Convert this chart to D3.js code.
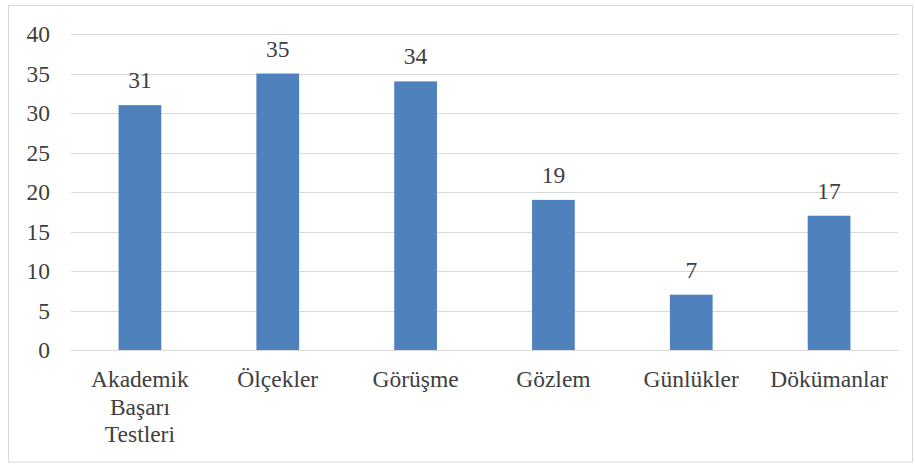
<!DOCTYPE html>
<html>
<head>
<meta charset="utf-8">
<script src="https://cdn.jsdelivr.net/npm/d3@7"></script>
<style>
  html, body { margin: 0; padding: 0; background: #fff; }
  svg { display: block; }
</style>
</head>
<body>
<svg id="chart" width="915" height="464"></svg>
<script>
// Data collection tools and how many studies used each
const categories = [["Akademik", "Başarı", "Testleri"], ["Ölçekler"], ["Görüşme"], ["Gözlem"], ["Günlükler"], ["Dökümanlar"]];
const values = [31, 35, 34, 19, 7, 17];
const yTicks = [0, 5, 10, 15, 20, 25, 30, 35, 40];

const FONT = "Liberation Serif, Times New Roman, serif";
const FONT_SIZE = 23.5;
const TEXT_COLOR = "#404040";

const svg = d3.select("#chart");
const W = 915, H = 464;
const margin = { left: 71, right: 17, top: 34, bottom: 114 };

// outer frame
svg.append("rect")
  .attr("x", 8.5).attr("y", 5.5)
  .attr("width", 904).attr("height", 456.5)
  .attr("fill", "#fff").attr("stroke", "#d9d9d9").attr("stroke-width", 1);

const x = d3.scaleBand()
  .domain(d3.range(categories.length))
  .range([margin.left, W - margin.right])
  .paddingInner(0.69).paddingOuter(0.345);

const y = d3.scaleLinear().domain([0, 40]).range([H - margin.bottom, margin.top]);

// horizontal gridlines
svg.append("g").selectAll("line").data(yTicks).join("line")
  .attr("x1", margin.left).attr("x2", W - margin.right)
  .attr("y1", d => Math.round(y(d)) + 0.5).attr("y2", d => Math.round(y(d)) + 0.5)
  .attr("stroke", "#d9d9d9").attr("stroke-width", 1);

// y axis labels
const yAxis = d3.axisLeft(y).tickValues(yTicks).tickSize(0).tickPadding(0);
const gy = svg.append("g").attr("transform", `translate(50,0)`).call(yAxis)
  .attr("font-family", FONT).attr("font-size", FONT_SIZE);
gy.select(".domain").remove();
gy.selectAll("text")
  .attr("fill", TEXT_COLOR).attr("dy", "0.33em");

// bars
svg.append("g").selectAll("rect").data(values).join("rect")
  .attr("x", (d, i) => x(i))
  .attr("width", x.bandwidth())
  .attr("y", d => y(d))
  .attr("height", d => y(0) - y(d))
  .attr("fill", "#4f81bd");

// value labels
svg.append("g").selectAll("text").data(values).join("text")
  .attr("x", (d, i) => x(i) + x.bandwidth() / 2)
  .attr("y", d => y(d) - 17)
  .attr("text-anchor", "middle")
  .attr("font-family", FONT).attr("font-size", FONT_SIZE)
  .attr("fill", TEXT_COLOR)
  .text(d => d);

// category labels (wrapped lines)
const cat = svg.append("g").selectAll("text").data(categories).join("text")
  .attr("x", (d, i) => x(i) + x.bandwidth() / 2)
  .attr("y", 387)
  .attr("text-anchor", "middle")
  .attr("font-family", FONT).attr("font-size", FONT_SIZE)
  .attr("fill", TEXT_COLOR);
cat.selectAll("tspan").data(d => d).join("tspan")
  .attr("x", function () { return d3.select(this.parentNode).attr("x"); })
  .attr("dy", (d, j) => j === 0 ? 0 : 27.5)
  .text(d => d);
</script>
</body>
</html>
